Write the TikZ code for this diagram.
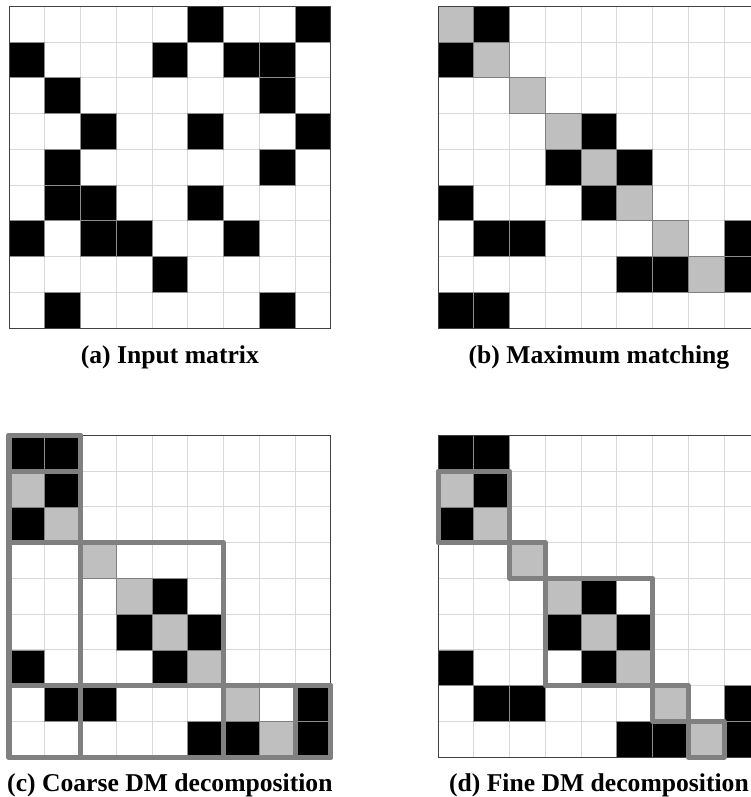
\documentclass[tikz,border=0pt]{standalone}
\usepackage{fontspec}
\setmainfont{Liberation Serif}
\usetikzlibrary{positioning}

\newcommand{\cellgrid}{%
	\draw[gridline] (0,-9) grid (9,0);}
\newcommand{\cellframe}{%
	\draw[frame] (0,0) rectangle (9,-9);}

\begin{document}
\begin{tikzpicture}[
			gridline/.style={draw=gray!30, line width=0.7pt},
			frame/.style={draw=black!75, line width=0.8pt},
			nz/.style={fill=black, draw=gray!90, line width=0.5pt},
			matched/.style={fill=gray!50, draw=gray, line width=0.5pt},
			blockline/.style={draw=gray, line width=4pt, line join=round, line cap=round},
			caption/.style={font=\bfseries\fontsize{20.4}{24}\selectfont, anchor=base}]
			
			\useasboundingbox (-0.252,0.176) rectangle (20.727,-22.117);
			
			\begin{scope}
				\cellgrid
				\foreach \r/\c in {0/5,0/8,1/0,1/4,1/6,1/7,2/1,2/7,3/2,3/5,3/8,4/1,4/7,5/1,5/2,5/5,6/0,6/2,6/3,6/6,7/4,8/1,8/7}
					\path[nz] (\c,-\r) rectangle ++(1,-1);
				\cellframe
			\end{scope}
			
			\begin{scope}[shift={(12,0)}]
				\cellgrid
				\foreach \r/\c in {0/1,1/0,3/4,4/3,4/5,5/0,5/4,6/1,6/2,6/8,7/5,7/6,7/8,8/0,8/1}
					\path[nz] (\c,-\r) rectangle ++(1,-1);
				\foreach \r/\c in {0/0,1/1,2/2,3/3,4/4,5/5,6/6,7/7}
					\path[matched] (\c,-\r) rectangle ++(1,-1);
				\cellframe
			\end{scope}
			
			\begin{scope}[shift={(0,-12)}]
				\cellgrid
				\foreach \r/\c in {0/0,0/1,1/1,2/0,4/4,5/3,5/5,6/0,6/4,7/1,7/2,7/8,8/5,8/6,8/8}
					\path[nz] (\c,-\r) rectangle ++(1,-1);
				\foreach \r/\c in {1/0,2/1,3/2,4/3,5/4,6/5,7/6,8/7}
					\path[matched] (\c,-\r) rectangle ++(1,-1);
				\cellframe
				\draw[blockline] (0,0) rectangle (2,-9);
				\draw[blockline] (0,-7) rectangle (9,-9);
				\draw[blockline] (0,0) rectangle (2,-3);
				\draw[blockline] (2,-3) rectangle (6,-7);
				\draw[blockline] (6,-7) rectangle (9,-9);
				\draw[blockline] (0,-1) -- (2,-1);
				\draw[blockline] (8,-7) -- (8,-9);
			\end{scope}
			
			\begin{scope}[shift={(12,-12)}]
				\cellgrid
				\foreach \r/\c in {0/0,0/1,1/1,2/0,4/4,5/3,5/5,6/0,6/4,7/1,7/2,7/8,8/5,8/6,8/8}
					\path[nz] (\c,-\r) rectangle ++(1,-1);
				\foreach \r/\c in {1/0,2/1,3/2,4/3,5/4,6/5,7/6,8/7}
					\path[matched] (\c,-\r) rectangle ++(1,-1);
				\cellframe
				\foreach \xa/\ya/\xb/\yb in {0/1/2/3,2/3/3/4,3/4/6/7,6/7/7/8,7/8/8/9}
					\draw[blockline] (\xa,-\ya) rectangle (\xb,-\yb);
			\end{scope}
			
			\node[caption] (capa) at (4.5,-10) {(a) Input matrix};
			\node[caption] (capb) at (16.5,-10) {(b) Maximum matching};
			\node[caption] (capc) at (4.5,-21.95) {(c) Coarse DM decomposition};
			\node[caption] (capd) at (16.5,-21.95) {(d) Fine DM decomposition};
			
		\end{tikzpicture}
\end{document}
